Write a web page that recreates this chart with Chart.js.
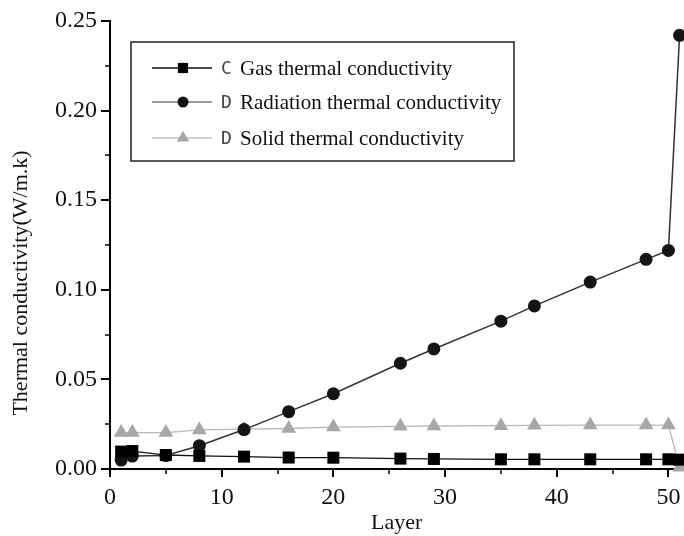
<!DOCTYPE html>
<html>
<head>
<meta charset="utf-8">
<script src="https://cdn.jsdelivr.net/npm/chart.js@4.4.1/dist/chart.umd.min.js"></script>
<style>
  html, body { margin: 0; padding: 0; background: #fff; overflow: hidden; }
  #outer { width: 684px; height: 536px; overflow: hidden; position: relative; }
  #wrap { width: 720px; height: 536px; position: relative; }
</style>
</head>
<body>
<div id="outer"><div id="wrap"><canvas id="c" width="684" height="536"></canvas></div></div>
<script>
// ---- data ----
const layers = [1, 2, 5, 8, 12, 16, 20, 26, 29, 35, 38, 43, 48, 50, 51];
const gasK = [0.0097, 0.0100, 0.0078, 0.0073, 0.0069, 0.0064, 0.0063, 0.0058, 0.0056, 0.0054, 0.0054, 0.0054, 0.0054, 0.0054, 0.0052];
const radiationK = [0.0050, 0.0072, 0.0075, 0.0130, 0.0220, 0.0320, 0.0420, 0.0590, 0.0670, 0.0825, 0.0910, 0.1043, 0.1170, 0.1220, 0.2420];
const solidK = [0.0203, 0.0203, 0.0203, 0.0218, 0.0222, 0.0226, 0.0234, 0.0238, 0.0240, 0.0242, 0.0244, 0.0245, 0.0245, 0.0245, 0.0010];

const seriesLabels = ["Gas thermal conductivity", "Radiation thermal conductivity", "Solid thermal conductivity"];
const seriesLetters = ["C", "D", "D"];
const xMajorTicks = [0, 10, 20, 30, 40, 50];
const xMinorTicks = [5, 15, 25, 35, 45];
const yMajorTicks = [0, 0.05, 0.10, 0.15, 0.20, 0.25];
const yMinorTicks = [0.025, 0.075, 0.125, 0.175, 0.225];
const xTitle = "Layer";
const yTitle = "Thermal conductivity(W/m.k)";

const SERIF = "'Liberation Serif', 'Times New Roman', serif";

function pts(ys) { return layers.map((x, i) => ({ x: x, y: ys[i] })); }

const datasets = [
  { label: seriesLabels[0], data: pts(gasK), borderColor: '#111', backgroundColor: '#000',
    pointStyle: 'rect', pointRadius: 8.5, borderWidth: 1.3, pointBorderWidth: 0, legendLine: '#111' },
  { label: seriesLabels[1], data: pts(radiationK), borderColor: '#333', backgroundColor: '#151515',
    pointStyle: 'circle', pointRadius: 6.5, borderWidth: 1.5, pointBorderWidth: 0, legendLine: '#777' },
  { label: seriesLabels[2], data: pts(solidK), borderColor: '#b8b8b8', backgroundColor: '#a8a8a8',
    pointStyle: 'triangle', pointRadius: 8.5, borderWidth: 1.3, pointBorderWidth: 0, legendLine: '#c4c4c4' }
];
datasets.forEach(d => { d.showLine = true; d.tension = 0; d.pointHoverRadius = d.pointRadius; d.clip = false; });
datasets[0].order = 1; datasets[1].order = 2; datasets[2].order = 3;

const tickPlugin = {
  id: 'customTicks',
  afterDraw(chart) {
    const ctx = chart.ctx;
    const xs = chart.scales.x, ys = chart.scales.y;
    const ca = chart.chartArea;
    ctx.save();
    ctx.strokeStyle = '#000';
    ctx.lineCap = 'butt';
    ctx.lineWidth = 2;
    xMajorTicks.forEach(v => { const p = Math.round(xs.getPixelForValue(v)); ctx.beginPath(); ctx.moveTo(p, ca.bottom); ctx.lineTo(p, ca.bottom + 8); ctx.stroke(); });
    ctx.lineWidth = 1.5;
    xMinorTicks.forEach(v => { const p = Math.round(xs.getPixelForValue(v)); ctx.beginPath(); ctx.moveTo(p, ca.bottom); ctx.lineTo(p, ca.bottom + 5); ctx.stroke(); });
    ctx.lineWidth = 2;
    yMajorTicks.forEach(v => { const p = Math.round(ys.getPixelForValue(v)); ctx.beginPath(); ctx.moveTo(ca.left, p); ctx.lineTo(ca.left - 9, p); ctx.stroke(); });
    ctx.lineWidth = 1.5;
    yMinorTicks.forEach(v => { const p = Math.round(ys.getPixelForValue(v)); ctx.beginPath(); ctx.moveTo(ca.left, p); ctx.lineTo(ca.left - 5, p); ctx.stroke(); });

    ctx.fillStyle = '#111';
    ctx.font = "22px " + SERIF;
    ctx.textAlign = 'center';
    ctx.textBaseline = 'middle';
    ctx.translate(21, 283);
    ctx.rotate(-Math.PI / 2);
    ctx.fillText(yTitle, 0, 0);
    ctx.restore();

    ctx.save();
    const bx = 131, by = 42, bw = 383, bh = 119;
    ctx.strokeStyle = '#222';
    ctx.lineWidth = 1.5;
    ctx.fillStyle = '#fff';
    ctx.fillRect(bx, by, bw, bh);
    ctx.strokeRect(bx, by, bw, bh);
    const rowsY = [68, 102, 138];
    chart.data.datasets.forEach((d, i) => {
      const y = rowsY[i];
      ctx.strokeStyle = d.legendLine;
      ctx.lineWidth = 1.5;
      ctx.beginPath(); ctx.moveTo(152, y); ctx.lineTo(212, y); ctx.stroke();
      ctx.fillStyle = d.backgroundColor;
      Chart.helpers.drawPoint(ctx, { pointStyle: d.pointStyle, radius: d.pointRadius * 0.85, borderWidth: 0 }, 183, y);
      ctx.fillStyle = '#444';
      ctx.font = "18px 'DejaVu Sans Mono', monospace";
      ctx.textAlign = 'left';
      ctx.textBaseline = 'middle';
      ctx.fillText(seriesLetters[i], 221, y + 1);
      ctx.fillStyle = '#111';
      ctx.font = "21px " + SERIF;
      ctx.fillText(d.label, 240, y + 1);
    });
    ctx.restore();
  }
};

function zeroPad(s) {
  s.paddingLeft = 0; s.paddingRight = 0; s.paddingTop = 0; s.paddingBottom = 0;
}

const chart = new Chart(document.getElementById('c'), {
  type: 'scatter',
  data: { datasets: datasets },
  plugins: [tickPlugin],
  options: {
    responsive: false,
    maintainAspectRatio: false,
    animation: false,
    devicePixelRatio: 1,
    layout: { padding: { left: 0, right: 1, top: 21, bottom: 0 } },
    plugins: { legend: { display: false }, tooltip: { enabled: false } },
    scales: {
      x: {
        type: 'linear', min: 0, max: 51.35,
        afterFit(s) { s.height = 67; zeroPad(s); },
        border: { display: true, color: '#000', width: 2 },
        grid: { display: false, drawTicks: false },
        ticks: { stepSize: 10, includeBounds: false, padding: 14, color: '#111', font: { family: SERIF, size: 24 },
                 callback: (v) => String(v), maxRotation: 0, autoSkip: false },
        title: { display: true, text: xTitle, color: '#111', font: { family: SERIF, size: 22 }, padding: { top: 0, bottom: 0 } }
      },
      y: {
        type: 'linear', min: 0, max: 0.25,
        afterFit(s) { s.width = 110; zeroPad(s); },
        border: { display: true, color: '#000', width: 2 },
        grid: { display: false, drawTicks: false },
        ticks: { stepSize: 0.05, padding: 13, color: '#111', font: { family: SERIF, size: 24 },
                 callback: (v) => Number(v).toFixed(2) }
      }
    }
  }
});

// Chart.js keeps some room right of the plot; widen the clipped canvas so the plot ends at x=683
const targetRight = 683;
for (let k = 0; k < 2; k++) {
  const extra = Math.round(targetRight - chart.chartArea.right);
  if (extra !== 0) {
    chart.resize(chart.width + extra, 536);
  }
}
</script>
</body>
</html>
